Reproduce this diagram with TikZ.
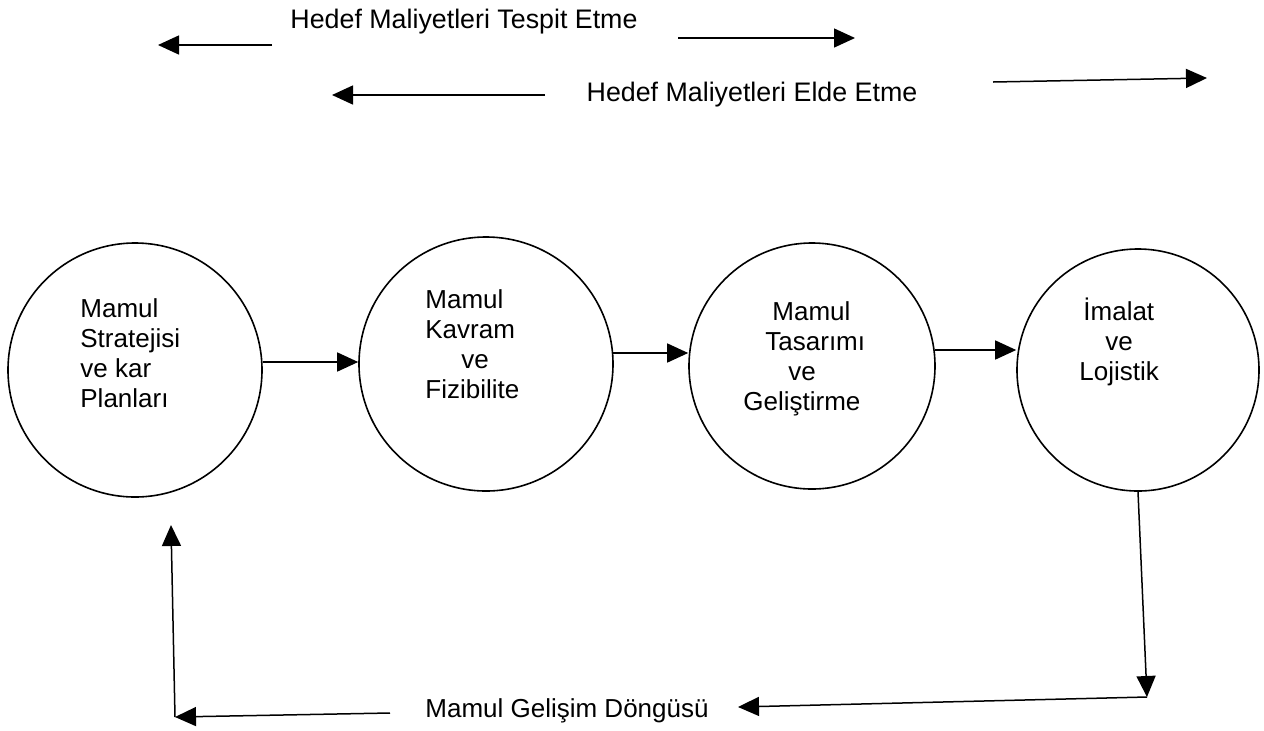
\documentclass[tikz,border=0pt]{standalone}
\usepackage{fontspec}
\setmainfont{Liberation Sans}
\usetikzlibrary{arrows.meta}
\begin{document}
\begin{tikzpicture}[x=0.5pt,y=-0.5pt,
  stage/.style={circle, draw, line width=0.8pt, inner sep=0pt},
  lbl/.style={inner sep=0pt, font=\fontsize{13}{15}\selectfont},
  toplbl/.style={inner sep=0pt, font=\fontsize{13.4}{15}\selectfont},
  stagetext/.style={lbl, align=left, anchor=north west},
  arr/.style={line width=0.75pt, -{Triangle[length=10.5pt,width=9.5pt]}}]
\useasboundingbox (0,0) rectangle (1264,730);

% phase labels with their arrows
\node[toplbl] (tespit) at (464,22) {Hedef Maliyetleri Tespit Etme};
\coordinate (t1a) at (272,45); \coordinate (t1b) at (158,45);
\coordinate (t2a) at (678,38); \coordinate (t2b) at (855,38);
\draw[arr] (t1a) -- (t1b);
\draw[arr] (t2a) -- (t2b);

\node[toplbl] (elde) at (752,95) {Hedef Maliyetleri Elde Etme};
\coordinate (e1a) at (545,95); \coordinate (e1b) at (332,95);
\coordinate (e2a) at (993,82); \coordinate (e2b) at (1207,78);
\draw[arr] (e1a) -- (e1b);
\draw[arr] (e2a) -- (e2b);

% stages
\node[stage, minimum size=127pt] (c1) at (135,370) {};
\node[stage, minimum size=127pt] (c2) at (486,364) {};
\node[stage, minimum size=123pt] (c3) at (812,366) {};
\node[stage, minimum size=121pt] (c4) at (1138,370) {};

\node[stagetext] (c1t) at (80,298) {Mamul\\Stratejisi\\ve kar\\Planları};
\node[stagetext] (c2t) at (425,289) {Mamul\\Kavram\\\hspace*{18pt}ve\\Fizibilite};
\node[stagetext] (c3t) at (743,301) {\hspace*{14.5pt}Mamul\\\hspace*{11pt}Tasarımı\\\hspace*{22.5pt}ve\\Geliştirme};
\node[stagetext] (c4t) at (1083,298) {İmalat\\\hspace*{11pt}ve\\\hspace*{-2pt}Lojistik};

\coordinate (a1) at (263,362); \coordinate (a2) at (613,353); \coordinate (a3) at (935,350);
\draw[arr] (a1) -- (a1 -| c2.west);
\draw[arr] (a2) -- (a2 -| c3.west);
\draw[arr] (a3) -- (a3 -| c4.west);

% product development loop
\node[lbl] (loop) at (567,711) {Mamul Gelişim Döngüsü};
\coordinate (br) at (1147,697);
\coordinate (lt) at (738,707);
\coordinate (ls) at (390,713);
\coordinate (bl) at (175,717);
\coordinate (up) at (171,525);
\draw[arr] (c4.south) -- (br);
\draw[arr] (br) -- (lt);
\draw[arr] (ls) -- (bl);
\draw[arr] (bl) -- (up);
\end{tikzpicture}
\end{document}
